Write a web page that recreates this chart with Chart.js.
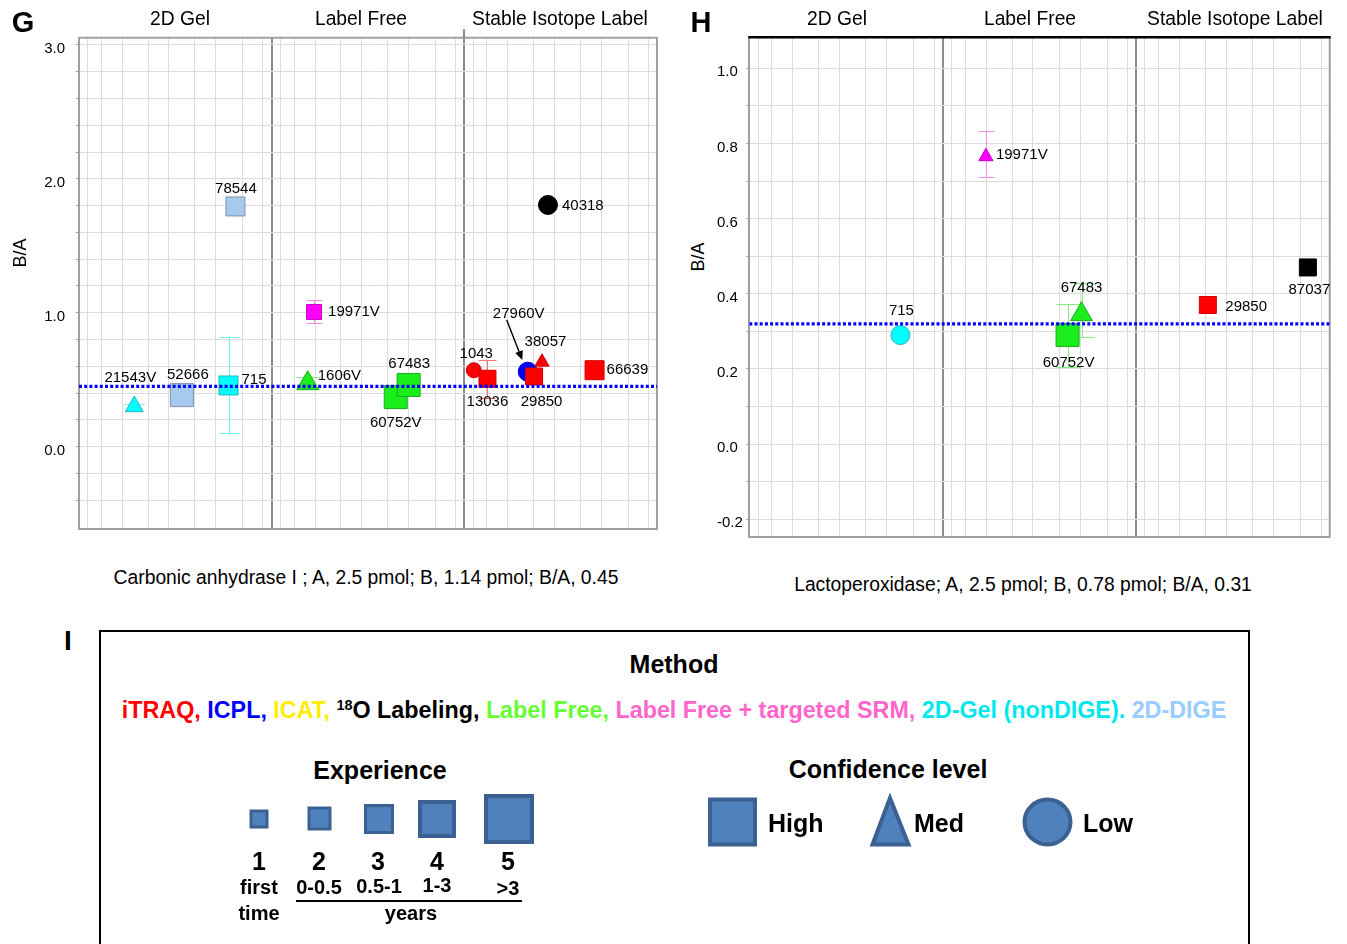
<!DOCTYPE html>
<html><head><meta charset="utf-8">
<script src="https://cdn.jsdelivr.net/npm/chart.js@4.4.1/dist/chart.umd.min.js"></script>
<style>
html,body{margin:0;padding:0;background:#fff;}
body{width:1347px;height:944px;position:relative;overflow:hidden;font-family:"Liberation Sans",Arial,sans-serif;color:#000;}
.t{position:absolute;white-space:nowrap;line-height:1;}
.c{transform:translate(-50%,-50%);}
.l{transform:translate(0,-50%);}
.v{transform:translate(-50%,-50%) rotate(-90deg);}
.b{font-weight:bold;}
canvas{position:absolute;top:0;}
</style></head><body>

<canvas id="chartG" width="680" height="560" style="left:0px"></canvas>
<canvas id="chartH" width="630" height="560" style="left:717px"></canvas>

<!-- Panel G texts -->
<div class="t c b" style="left:23px;top:22px;font-size:29px">G</div>
<div class="t c" style="left:180px;top:19px;font-size:19.3px">2D Gel</div>
<div class="t c" style="left:361px;top:19px;font-size:19.3px">Label Free</div>
<div class="t c" style="left:560px;top:19px;font-size:19.3px">Stable Isotope Label</div>
<div class="t v" style="left:20px;top:253px;font-size:18px">B/A</div>
<div class="t c" style="left:366px;top:578px;font-size:19.3px">Carbonic anhydrase I ; A, 2.5 pmol; B, 1.14 pmol; B/A, 0.45</div>

<!-- Panel H texts -->
<div class="t c b" style="left:701px;top:22px;font-size:29px">H</div>
<div class="t c" style="left:837px;top:19px;font-size:19.3px">2D Gel</div>
<div class="t c" style="left:1030px;top:19px;font-size:19.3px">Label Free</div>
<div class="t c" style="left:1235px;top:19px;font-size:19.3px">Stable Isotope Label</div>
<div class="t v" style="left:698px;top:257px;font-size:18px">B/A</div>
<div class="t c" style="left:1023px;top:585px;font-size:19.3px">Lactoperoxidase; A, 2.5 pmol; B, 0.78 pmol; B/A, 0.31</div>

<!-- Panel I legend -->
<div class="t c b" style="left:68px;top:641px;font-size:28px">I</div>
<div style="position:absolute;left:99px;top:630px;width:1151px;height:400px;border:2px solid #000;box-sizing:border-box;"></div>
<div class="t c b" style="left:674px;top:664px;font-size:25px">Method</div>
<div id="methodLine" class="t c b" style="left:674px;top:710px;font-size:21px"><span style="color:#ff0000">iTRAQ, </span><span style="color:#0000ff">ICPL, </span><span style="color:#ffee00">ICAT, </span><span style="color:#000"><span style="font-size:0.62em;vertical-align:0.55em">18</span>O Labeling, </span><span style="color:#66ff33">Label Free, </span><span style="color:#ff66cc">Label Free + targeted SRM, </span><span style="color:#00e8ee">2D-Gel (nonDIGE). </span><span style="color:#99ccff">2D-DIGE</span></div>

<div class="t c b" style="left:380px;top:770px;font-size:25px">Experience</div>
<div class="t c b" style="left:888px;top:769px;font-size:25px">Confidence level</div>

<svg style="position:absolute;left:0;top:0" width="1347" height="944">
  <g fill="#4f81bd" stroke="#3a6191">
    <rect x="251" y="811" width="16" height="16" stroke-width="3"/>
    <rect x="309" y="808" width="21" height="21" stroke-width="3"/>
    <rect x="365.5" y="805.5" width="27" height="27" stroke-width="3"/>
    <rect x="420" y="802" width="34" height="34" stroke-width="4"/>
    <rect x="486" y="796" width="46" height="46" stroke-width="4"/>
    <rect x="710" y="799.5" width="45" height="45" stroke-width="4"/>
    <polygon points="890,798 872.5,844.5 908.5,844.5" stroke-width="4" stroke-linejoin="miter"/>
    <ellipse cx="1047.5" cy="822" rx="23" ry="22.5" stroke-width="4"/>
  </g>
  <line x1="296" y1="901" x2="522" y2="901" stroke="#000" stroke-width="2"/>
</svg>

<div class="t c b" style="left:259px;top:861px;font-size:25px">1</div>
<div class="t c b" style="left:319px;top:861px;font-size:25px">2</div>
<div class="t c b" style="left:378px;top:861px;font-size:25px">3</div>
<div class="t c b" style="left:437px;top:861px;font-size:25px">4</div>
<div class="t c b" style="left:508px;top:861px;font-size:25px">5</div>
<div class="t c b" style="left:259px;top:887px;font-size:20px">first</div>
<div class="t c b" style="left:259px;top:913px;font-size:20px">time</div>
<div class="t c b" style="left:319px;top:887px;font-size:20px">0-0.5</div>
<div class="t c b" style="left:379px;top:886px;font-size:20px">0.5-1</div>
<div class="t c b" style="left:437px;top:885px;font-size:20px">1-3</div>
<div class="t c b" style="left:508px;top:888px;font-size:20px">&gt;3</div>
<div class="t c b" style="left:411px;top:913px;font-size:20px">years</div>
<div class="t l b" style="left:768px;top:823px;font-size:25px">High</div>
<div class="t l b" style="left:914px;top:823px;font-size:25px">Med</div>
<div class="t l b" style="left:1083px;top:823px;font-size:25px">Low</div>

<script>
// ---------------- DATA ----------------
const sectionNames = ['2D Gel', 'Label Free', 'Stable Isotope Label'];

// Panel G: Carbonic anhydrase I
const gLab    = ['21543V','52666','715','78544','1606V','19971V','60752V','67483','1043','13036','27960V','29850','38057','40318','66639'];
const gMethod = ['GEL','DIGE','GEL','DIGE','LF','SRM','LF','LF','iTRAQ','iTRAQ','ICPL','iTRAQ','iTRAQ','O18','iTRAQ'];
const gConf   = ['Med','High','High','High','Med','High','High','High','Low','High','Low','High','Med','Low','High'];
const gExp    = [4,5,4,4,5,2,5,5,2,3,4,3,2,4,4];
const gX      = [2.87,5.34,7.76,8.12,11.87,12.2,16.44,17.11,20.49,21.2,23.29,23.62,24.03,24.34,26.76];
const gY      = [0.30,0.385,0.457,1.794,0.473,1.006,0.370,0.461,0.571,0.507,0.560,0.524,0.632,1.805,0.571];
const gErrLow = [0.319,null,0.10,null,0.43,0.924,null,null,null,0.361,null,null,null,null,null];
const gErrHigh= [0.319,null,0.82,null,0.518,1.096,null,null,null,0.647,null,null,null,null,null];
const gRef    = 0.45;
const gYTicks = [-0.4,-0.2,0,0.2,0.4,0.6,0.8,1.0,1.2,1.4,1.6,1.8,2.0,2.2,2.4,2.6,2.8,3.0];
const gYLabels= [0,1,2,3];

// Panel H: Lactoperoxidase
const hLab    = ['715','19971V','60752V','67483','29850','87037'];
const hMethod = ['GEL','SRM','LF','LF','iTRAQ','O18'];
const hConf   = ['Low','Med','High','Med','High','High'];
const hExp    = [4,2,5,5,3,3];
const hX      = [7.81,12.23,16.45,17.17,23.7,28.87];
const hY      = [0.290,0.765,0.290,0.345,0.370,0.470];
const hErrLow = [null,0.711,0.206,0.284,null,null];
const hErrHigh= [null,0.834,0.373,0.429,null,null];
const hRef    = 0.32;
const hYTicks = [-0.2,-0.1,0,0.1,0.2,0.3,0.4,0.5,0.6,0.7,0.8,0.9,1.0];
const hYLabels= [-0.2,0,0.2,0.4,0.6,0.8,1.0];

// x grid within each of the three method sections (section = 10 units)
const xGridOffsets = [0.45,1.17,2.25,3.59,4.66,6.02,7.11,8.5,9.55];
const sectionBounds = [10, 20];

// ---------------- STYLE ----------------
const methodFill = {iTRAQ:'#ff0000', ICPL:'#0000ff', ICAT:'#ffff00', O18:'#000000', LF:'#1aee1a', SRM:'#ff00ff', GEL:'#00ffff', DIGE:'#a7c9ed'};
const methodEdge = {iTRAQ:'#d00000', ICPL:'#0000c0', ICAT:'#c8c800', O18:'#000000', LF:'#1fa81f', SRM:'#c000c0', GEL:'#2bb5bd', DIGE:'#7d92ab'};
const methodErr  = {iTRAQ:'#ff7070', ICPL:'#6666ff', ICAT:'#dddd00', O18:'#666666', LF:'#80ee80', SRM:'#ff88ee', GEL:'#70f2f2', DIGE:'#a7c9ed'};
const confShape  = {High:'rect', Med:'triangle', Low:'circle'};
const expSide    = {1:12, 2:15, 3:17, 4:19, 5:23};

const gPlace = [['center',-4,-29],['center',6,-20],['left',13,-5.5],['center',0.5,-17.5],['left',10,-7],['left',14,0],
  ['center',0,25.5],['center',0.5,-21.5],['center',2.5,-16.5],['center',0,23],['center',-9,-57.5],
  ['center',7.5,25],['center',3.5,-20],['left',14,1],['left',12,0]];
const hPlace = [['center',1,-24.5],['left',10,-2],['center',1,28],['center',0,-27],['left',17.5,2],['center',1.5,22]];

Chart.defaults.font.family = '"Liberation Sans", Arial, sans-serif';
Chart.defaults.color = '#000';

function radiusFor(shape, side){
  if (shape === 'rect') return side / Math.SQRT2;
  if (shape === 'triangle') return 0.95 * side / Math.sqrt(3);
  return side / 2;
}

function makePanel(id, cfg){
  const shapes = cfg.conf.map(c => confShape[c]);
  const radii = shapes.map((s,i) => radiusFor(s, expSide[cfg.exp[i]]));
  const pts = cfg.x.map((x,i) => ({x:x, y:cfg.y[i]}));
  const xTicks = [];
  for (let s = 0; s < sectionNames.length; s++) xGridOffsets.forEach(o => xTicks.push(+(s*10 + o).toFixed(2)));
  sectionBounds.forEach(b => xTicks.push(b));
  xTicks.sort((a,b)=>a-b);

  const decor = {
    id: 'decor_' + id,
    beforeDatasetsDraw(chart){
      const {ctx, chartArea:a, scales} = chart;
      ctx.save();
      ctx.strokeStyle = '#a0a0a0'; ctx.lineWidth = 2;
      ctx.beginPath(); ctx.moveTo(a.right, a.top); ctx.lineTo(a.right, a.bottom+1); ctx.stroke();
      ctx.strokeStyle = cfg.topColor; ctx.lineWidth = cfg.topWidth;
      ctx.beginPath(); ctx.moveTo(a.left-1, a.top); ctx.lineTo(a.right+1, a.top); ctx.stroke();
      if (cfg.dividerExt){
        const px = Math.round(scales.x.getPixelForValue(cfg.dividerExt.value));
        ctx.strokeStyle = '#8c8c8c'; ctx.lineWidth = 2;
        ctx.beginPath(); ctx.moveTo(px, cfg.dividerExt.top); ctx.lineTo(px, a.top); ctx.stroke();
      }
      const meta = chart.getDatasetMeta(0);
      ctx.lineWidth = 1;
      cfg.errLow.forEach((lo,i) => {
        if (lo === null) return;
        const hi = cfg.errHigh[i];
        const x = Math.round(meta.data[i].x) + 0.5;
        const y1 = Math.round(scales.y.getPixelForValue(lo)) + 0.5;
        const y2 = Math.round(scales.y.getPixelForValue(hi)) + 0.5;
        const hw = (expSide[cfg.exp[i]] + 1) / 2;
        ctx.strokeStyle = methodErr[cfg.method[i]];
        ctx.beginPath();
        ctx.moveTo(x, y1); ctx.lineTo(x, y2);
        ctx.moveTo(x-hw, y1); ctx.lineTo(x+hw, y1);
        ctx.moveTo(x-hw, y2); ctx.lineTo(x+hw, y2);
        ctx.stroke();
      });
      ctx.restore();
    },
    afterDatasetsDraw(chart){
      const {ctx} = chart;
      const meta = chart.getDatasetMeta(0);
      ctx.save();
      ctx.font = '15px "Liberation Sans", Arial, sans-serif';
      ctx.fillStyle = '#000';
      ctx.textBaseline = 'middle';
      cfg.labs.forEach((t,i) => {
        const p = cfg.place[i], el = meta.data[i];
        ctx.textAlign = p[0];
        ctx.fillText(t, el.x + p[1], el.y + p[2]);
      });
      (cfg.arrows || []).forEach(ar => {
        const el = meta.data[ar.point];
        const sx = el.x + ar.sx, sy = el.y + ar.sy, ex = el.x + ar.ex, ey = el.y + ar.ey;
        const ang = Math.atan2(ey - sy, ex - sx);
        ctx.strokeStyle = '#000'; ctx.lineWidth = 1.4;
        ctx.beginPath(); ctx.moveTo(sx, sy); ctx.lineTo(ex - 6*Math.cos(ang), ey - 6*Math.sin(ang)); ctx.stroke();
        ctx.beginPath();
        ctx.moveTo(ex, ey);
        ctx.lineTo(ex - 9*Math.cos(ang) + 4*Math.sin(ang), ey - 9*Math.sin(ang) - 4*Math.cos(ang));
        ctx.lineTo(ex - 9*Math.cos(ang) - 4*Math.sin(ang), ey - 9*Math.sin(ang) + 4*Math.cos(ang));
        ctx.closePath(); ctx.fillStyle = '#000'; ctx.fill();
      });
      ctx.restore();
    }
  };

  return new Chart(document.getElementById(id), {
    type: 'scatter',
    data: { datasets: [
      { type:'scatter', data: pts, pointStyle: shapes, pointRadius: radii,
        pointBackgroundColor: cfg.method.map(m => methodFill[m]),
        pointBorderColor: cfg.method.map(m => methodEdge[m]),
        pointBorderWidth: 1, order: 1 },
      { type:'line', data: [{x:0, y:cfg.ref}, {x:30, y:cfg.ref}], borderColor:'#0000ff', borderWidth:3.2,
        borderDash:[3,2.2], pointRadius:0, fill:false, order:0 }
    ]},
    options: {
      responsive:false, animation:false, events:[],
      layout:{padding:{left:0, right:cfg.padR, top:cfg.padT, bottom:cfg.padB}},
      plugins:{legend:{display:false}, tooltip:{enabled:false}},
      scales:{
        x:{ type:'linear', min:0, max:30,
            afterBuildTicks: s => { s.ticks = xTicks.map(v => ({value:v})); },
            afterFit: s => { s.height = 0; },
            ticks:{display:false},
            grid:{ drawTicks:false,
                   color: c => (c.tick && sectionBounds.includes(c.tick.value)) ? '#8c8c8c' : '#dcdcd8',
                   lineWidth: c => (c.tick && sectionBounds.includes(c.tick.value)) ? 2 : 1 },
            border:{display:true, color:'#a0a0a0', width:2} },
        y:{ type:'linear', min:cfg.yMin, max:cfg.yMax,
            afterBuildTicks: s => { s.ticks = cfg.yTicks.map(v => ({value:v})); },
            afterFit: s => { s.width = cfg.yAxisW; },
            ticks:{ autoSkip:false, font:{size:15}, color:'#000', padding:cfg.tickPad, labelOffset:4,
                    crossAlign: cfg.crossAlign,
                    callback: v => cfg.yLabels.some(l => Math.abs(l - v) < 1e-9) ? v.toFixed(1) : '' },
            grid:{ color:'#dcdcd8', tickColor:'#a0a0a0', tickLength:3 },
            border:{display:true, color:'#a0a0a0', width:2} }
      }
    },
    plugins:[decor]
  });
}

makePanel('chartG', {
  labs:gLab, method:gMethod, conf:gConf, exp:gExp, x:gX, y:gY, errLow:gErrLow, errHigh:gErrHigh,
  ref:gRef, yTicks:gYTicks, yLabels:gYLabels, yMin:-0.617, yMax:3.054, place:gPlace,
  padR:23, padT:37.7, padB:30.7, yAxisW:79, tickPad:11, crossAlign:'near',
  topColor:'#a0a0a0', topWidth:2, dividerExt:{value:20, top:29},
  arrows:[{point:10, sx:-21, sy:-51.7, ex:-5.4, ey:-11.7}]
});
makePanel('chartH', {
  labs:hLab, method:hMethod, conf:hConf, exp:hExp, x:hX, y:hY, errLow:hErrLow, errHigh:hErrHigh,
  ref:hRef, yTicks:hYTicks, yLabels:hYLabels, yMin:-0.2475, yMax:1.0825, place:hPlace,
  padR:11, padT:37.3, padB:23, yAxisW:32.3, tickPad:3.5, crossAlign:'far',
  topColor:'#000000', topWidth:2.5, dividerExt:null, arrows:[]
});

// fit the method line to its width in the reference
const ml = document.getElementById('methodLine');
const w = ml.getBoundingClientRect().width;
ml.style.fontSize = (21 * 1105 / w) + 'px';
</script>
</body></html>
